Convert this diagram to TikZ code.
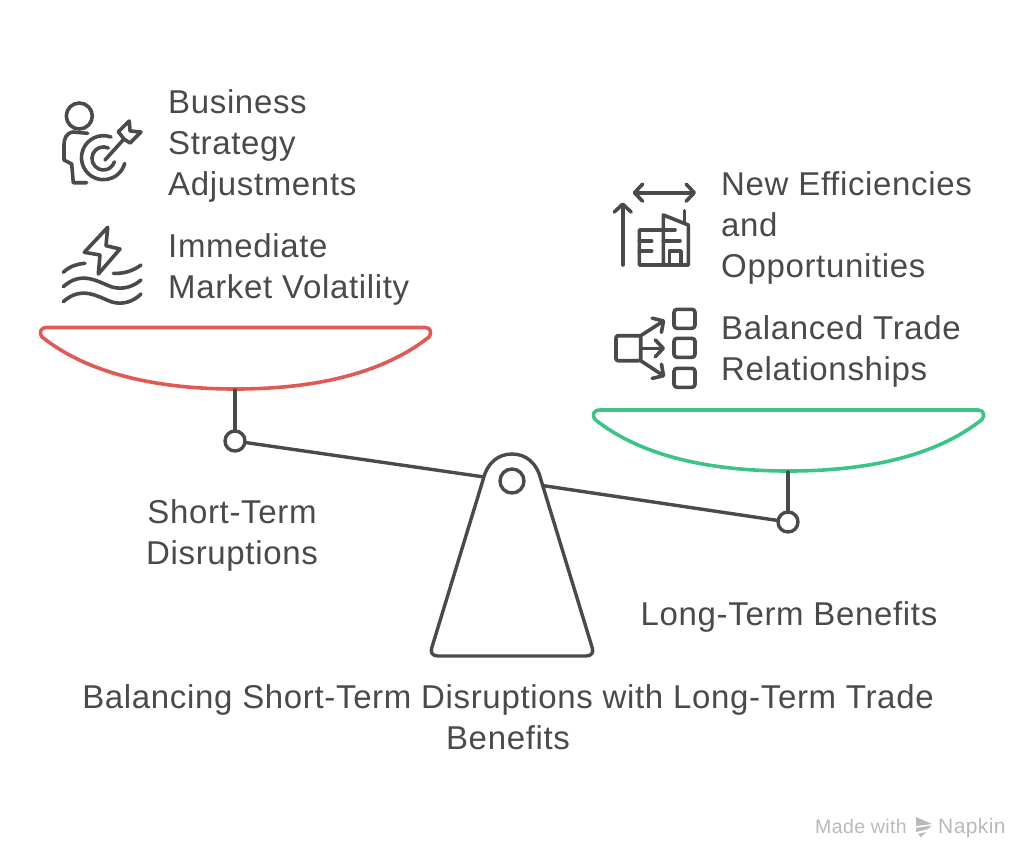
\documentclass[tikz,border=0pt]{standalone}
\usepackage{fontspec}
\setmainfont[LetterSpace=2.0]{Liberation Sans}
\usepackage{xcolor}
\usetikzlibrary {arrows.meta,
                 positioning}
\definecolor{inkgray}{HTML}{4A4A4A}
\definecolor{panred}{HTML}{E05A55}
\definecolor{pangreen}{HTML}{3CC487}
\definecolor{markgray}{HTML}{B9B9B9}
\tikzset{
        x=1pt, y=-1pt,
        txt/.style={inner sep=0pt, text=inkgray, font=\fontsize{33}{41}\selectfont},
        side/.style={txt, align=left, anchor=west},
        mid/.style={txt, align=center},
        line/.style={draw=inkgray, line width=3.4pt, line cap=round, line join=round},
        icon/.style={draw=inkgray, line width=3.6pt, line cap=round, line join=round},
        ring/.style={circle, draw=inkgray, line width=3.4pt, fill=white, inner sep=0pt, minimum size=20pt},
        pan/.style={line width=3.6pt, line join=round, line cap=round},
        barb/.style={-{Straight Barb[length=8pt, width=17pt, round]}},
        twobarb/.style={{Straight Barb[length=8pt, width=17pt, round]}-{Straight Barb[length=8pt, width=17pt, round]}},
        brand/.style={inner sep=0pt, text=markgray, anchor=base west},
 }
\begin{document}
\begin{tikzpicture}
    \useasboundingbox (0,0) rectangle (1024,857);

    % pans
    \draw[pan, draw=panred] (47,327.5) -- (425,327.5)
        .. controls (431,327.5) and (432,333) .. (429,337)
        .. controls (381,375) and (311,389) .. (235.5,389)
        .. controls (160,389) and (90,375) .. (42,337)
        .. controls (39,333) and (40,327.5) .. (47,327.5) -- cycle;
    \draw[pan, draw=pangreen] (600,410) -- (978,410)
        .. controls (984,410) and (985,415.5) .. (982,419.5)
        .. controls (934,457.5) and (864,471) .. (788.5,471)
        .. controls (713,471) and (643,457.5) .. (595,419.5)
        .. controls (592,415.5) and (593,410) .. (600,410) -- cycle;
    \coordinate (redbottom) at (235,390);
    \coordinate (greenbottom) at (788,472);

    % scale
    \node[ring] (leftpin) at (235,441) {};
    \node[ring] (rightpin) at (788,522) {};
    \coordinate (hub) at (512,481);
    \draw[line] (redbottom) -- (leftpin);
    \draw[line] (greenbottom) -- (rightpin);
    \draw[line] (leftpin) -- (hub);
    \draw[line] (hub) -- (rightpin);
    \draw[line, fill=white] (438,656) -- (586,656)
        .. controls (592,656) and (594,652) .. (592,647)
        -- (541,480)
        .. controls (537,463) and (526,454) .. (512,454)
        .. controls (498,454) and (487,463) .. (483,480)
        -- (432,647)
        .. controls (430,652) and (432,656) .. (438,656) -- cycle;
    \node[ring, minimum size=24pt] (hubring) at (hub) {};

    % target icon
    \draw[icon] (79.3,116) circle (13);
    \draw[icon] (87.7,133.3) -- (73,132) .. controls (66,133) and (64,139) .. (64,145)
        -- (64,160) -- (71.7,164) -- (73.3,182.7) -- (86.7,182.7);
    \draw[icon] (111,137) arc (-70:-345:22);
    \draw[icon] (108.3,148) arc (-65:-343:11.5);
    \draw[icon] (105,160) -- (124,139);
    \draw[icon] (118.3,131.7) -- (129.3,121) -- (130,131) -- (141,132) -- (130,143) -- (124,139) -- cycle;

    % bolt icon
    \draw[icon] (107.7,227.3) -- (84.3,252.3) -- (100,255) -- (98.3,274) -- (120,249) -- (106,245.7) -- cycle;
    \draw[icon] (63.3,272.3) .. controls (70,266) and (77,264) .. (85,263.3);
    \draw[icon] (113.3,273.3) .. controls (123,274) and (133,271) .. (141,265);
    \draw[icon] (63.3,286.7) .. controls (82,270) and (98,282) .. (112,287) .. controls (122,290) and (133,287) .. (141,280);
    \draw[icon] (63.3,301.7) .. controls (82,285) and (98,297) .. (112,302) .. controls (122,305) and (133,302) .. (141,294);

    % building icon
    \draw[icon, barb] (622.7,265) -- (622.7,202.3);
    \draw[icon, twobarb] (632.7,192.7) -- (696,192.7);
    \draw[icon] (663.3,230) -- (639.3,230) -- (639.3,265) -- (688.3,265) -- (688.3,225) -- (663.3,215) -- (663.3,265);
    \draw[icon] (684.3,210.7) -- (684.3,221.7);
    \draw[icon] (639.3,241) -- (651.7,241);
    \draw[icon] (639.3,251) -- (651.7,251);
    \draw[icon] (663.3,230) -- (675,230);
    \draw[icon] (663.3,240.7) -- (680,240.7);
    \draw[icon] (669.3,265) -- (669.3,251) -- (681,251) -- (681,265);

    % split icon
    \draw[icon, rounded corners=2pt] (616,335.7) rectangle (640.7,360.7);
    \draw[icon, rounded corners=3pt] (674,309.3) rectangle (695,328.3);
    \draw[icon, rounded corners=3pt] (674,338.3) rectangle (695,357.3);
    \draw[icon, rounded corners=3pt] (674,368.3) rectangle (695,387.3);
    \draw[icon, barb] (640.7,335.7) -- (665,320);
    \draw[icon, barb] (640.7,348.3) -- (665,348.3);
    \draw[icon, barb] (640.7,360.7) -- (665,376.7);

    % texts
    \node[side] (strategy) at (168,146) {Business\\Strategy\\Adjustments};
    \node[side] (volatility) at (168,269) {Immediate\\Market Volatility};
    \node[side] (efficiencies) at (721,228) {New Efficiencies\\and\\Opportunities};
    \node[side] (trade) at (721,351) {Balanced Trade\\Relationships};
    \node[mid] (shortterm) at (232,535) {Short-Term\\Disruptions};
    \node[mid] (longterm) at (789,617) {Long-Term Benefits};
    \node[mid] (title) at (508,717) {Balancing Short-Term Disruptions with Long-Term Trade\\Benefits};

    % footer
    \node[brand, font=\fontsize{19.5}{20}\selectfont] (madewith) at (815,833) {Made with};
    \node[brand, font=\fontsize{21}{20}\selectfont] (napkin) at (938,833) {Napkin};
    \fill[markgray] (916,817) -- (932,824) -- (916,826) -- cycle;
    \fill[markgray] (916,828) -- (932,825.5) -- (928,829) -- (916,832) -- cycle;
    \fill[markgray] (918,834) -- (926,832) -- (921,837) -- cycle;
\end{tikzpicture}
\end{document}
